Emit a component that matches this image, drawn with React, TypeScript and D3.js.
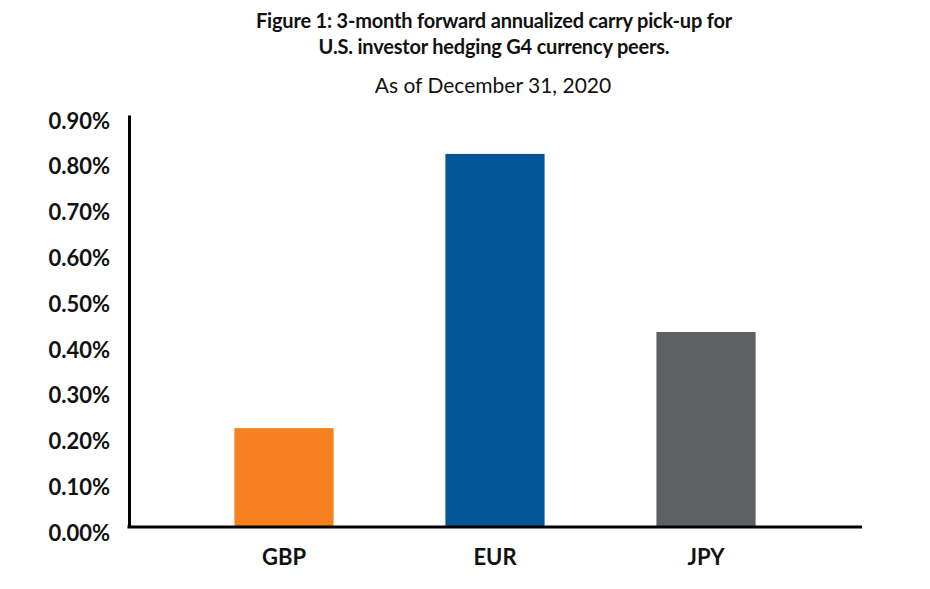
import React, { useEffect, useRef } from "react";
import * as d3 from "d3";

// values (percent)
const currencies = ["GBP", "EUR", "JPY"];
const carryPickup = [0.216, 0.815, 0.426];
const barColors = ["#F68121", "#025596", "#5F6062"];
const yTicks = [0, 0.1, 0.2, 0.3, 0.4, 0.5, 0.6, 0.7, 0.8, 0.9];
const titleLines = [
  "Figure 1: 3-month forward annualized carry pick-up for",
  "U.S. investor hedging G4 currency peers.",
];
const subtitle = "As of December 31, 2020";

const App: React.FC = () => {
  const svgRef = useRef<SVGSVGElement | null>(null);

  useEffect(() => {
    const width = 930;
    const height = 589;
    const font = "Lato, 'Open Sans', sans-serif";

    const svg = d3
      .select(svgRef.current)
      .attr("width", width)
      .attr("height", height)
      .attr("viewBox", [0, 0, width, height])
      .style("display", "block")
      .style("position", "absolute")
      .style("left", "0px")
      .style("top", "0px")
      .style("font-family", font);
    svg.selectAll("*").remove();

    const x = d3
      .scaleBand()
      .domain(currencies)
      .range([178.5, 811.5])
      .paddingInner(0.53)
      .paddingOuter(0.265);

    const y = d3.scaleLinear().domain([0, 0.9]).range([527, 115]);

    // title
    svg
      .append("g")
      .selectAll("text")
      .data(titleLines)
      .join("text")
      .attr("x", 494)
      .attr("y", (_, i) => 28 + i * 26)
      .attr("text-anchor", "middle")
      .attr("font-weight", 700)
      .attr("font-size", 20)
      .attr("letter-spacing", "-0.2px")
      .attr("fill", "#111")
      .text((d) => d);

    svg
      .append("text")
      .attr("x", 493)
      .attr("y", 93)
      .attr("text-anchor", "middle")
      .attr("font-size", 21)
      .attr("fill", "#111")
      .text(subtitle);

    // bars
    svg
      .append("g")
      .selectAll("rect")
      .data(carryPickup)
      .join("rect")
      .attr("x", (_, i) => x(currencies[i]) as number)
      .attr("y", (d) => y(d))
      .attr("width", x.bandwidth())
      .attr("height", (d) => y(0) - y(d))
      .attr("fill", (_, i) => barColors[i]);

    // y axis
    const gy = svg
      .append("g")
      .attr("transform", "translate(129,0)")
      .call(
        d3
          .axisLeft(y)
          .tickValues(yTicks)
          .tickSize(0)
          .tickPadding(19)
          .tickFormat((d) => d3.format(".2f")(d as number) + "%"),
      );
    gy.select(".domain").attr("stroke", "#000").attr("stroke-width", 3);
    gy.selectAll("text")
      .attr("font-family", font)
      .attr("font-size", 22)
      .attr("font-weight", 700)
      .attr("fill", "#111")
      .attr("dy", "0.6em");

    // x axis
    const gx = svg
      .append("g")
      .attr("transform", "translate(0,527)")
      .call(d3.axisBottom(x).tickSize(0).tickPadding(22));
    gx.select(".domain")
      .attr("d", "M127.5,0H862")
      .attr("stroke", "#000")
      .attr("stroke-width", 3);
    gx.selectAll("text")
      .attr("font-family", font)
      .attr("font-size", 22)
      .attr("font-weight", 700)
      .attr("fill", "#111");
  }, []);

  return <svg ref={svgRef}></svg>;
};

export default App;
